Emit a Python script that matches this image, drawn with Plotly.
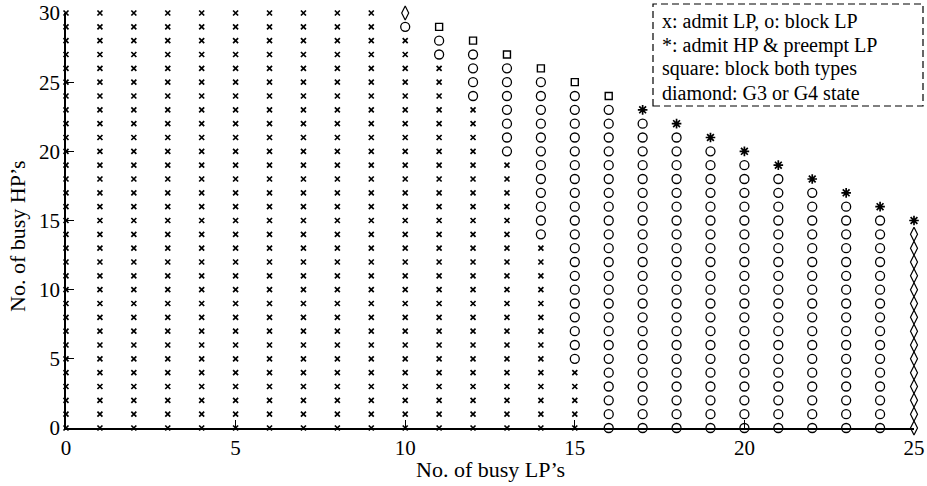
import plotly.graph_objects as go

# Admission policy state space: busy LP channels (x) vs busy HP channels (y)
lp_busy = [0, 1, 2, 3, 4, 5, 6, 7, 8, 9, 10, 11, 12, 13, 14, 15, 16, 17, 18, 19, 20, 21, 22, 23, 24, 25]
hp_max = [30, 30, 30, 30, 30, 30, 30, 30, 30, 30, 30, 29, 28, 27, 26, 25, 24, 23, 22, 21, 20, 19, 18, 17, 16, 15]
# marker used at the top state of each column
top_state = ["x"] * 10 + ["diamond"] + ["square"] * 6 + ["star"] * 9
# lowest HP count at which LP calls are blocked (None: never blocked below top)
block_lp_from = [None] * 10 + [29, 27, 24, 20, 14, 5, 0, 0, 0, 0, 0, 0, 0, 0, 0] + [None]
# columns whose lower states are G3/G4 states
g34_columns = [25]

x_ticks = [0, 5, 10, 15, 20, 25]
y_ticks = [0, 5, 10, 15, 20, 25, 30]

legend_lines = [
    "x: admit LP, o: block LP",
    "*: admit HP &amp; preempt LP",
    "square: block both types",
    "diamond: G3 or G4 state",
]

pts = {"x": ([], []), "circle": ([], []), "square": ([], []), "star": ([], []), "diamond": ([], [])}
for c, top, kind, low in zip(lp_busy, hp_max, top_state, block_lp_from):
    for h in range(top + 1):
        if h == top:
            k = kind
        elif c in g34_columns:
            k = "diamond"
        elif low is not None and h >= low:
            k = "circle"
        else:
            k = "x"
        pts[k][0].append(c)
        pts[k][1].append(h)

styles = {
    "x": dict(symbol="x-thin-open", size=5, line=dict(color="black", width=1.7)),
    "circle": dict(symbol="circle-open", size=9, line=dict(color="black", width=1.3)),
    "square": dict(symbol="square-open", size=7, line=dict(color="black", width=1.4)),
    "star": dict(symbol="asterisk-open", size=8, line=dict(color="black", width=1.7)),
    "diamond": dict(symbol="diamond-tall-open", size=10, line=dict(color="black", width=1.2)),
}

fig = go.Figure()
for k, (xs, ys) in pts.items():
    fig.add_trace(go.Scatter(x=xs, y=ys, mode="markers", marker=dict(color="black", **styles[k]),
                             cliponaxis=False, showlegend=False, hoverinfo="skip"))

W, H = 927, 486
ML, MR, MT, MB = 66, 13, 13, 58
PW, PH = W - ML - MR, H - MT - MB


def px_x(p):
    return (p - ML) / PW


def px_y(p):
    return (H - MB - p) / PH


serif = "Liberation Serif"
axis_common = dict(showline=True, linecolor="black", linewidth=1.6, ticks="inside", ticklen=8,
                   tickwidth=1.2, tickcolor="black", showgrid=False, zeroline=False,
                   ticklabeloverflow="allow", automargin=False,
                   tickfont=dict(family=serif, size=21, color="black"), layer="below traces")

fig.update_layout(
    width=W, height=H,
    margin=dict(l=ML, r=MR, t=MT, b=MB, autoexpand=False),
    paper_bgcolor="white", plot_bgcolor="white",
    xaxis=dict(range=[-0.0001, 25.0001], tickmode="array", tickvals=x_ticks,
               ticktext=[str(v) for v in x_ticks], **axis_common),
    yaxis=dict(range=[-0.0001, 30.0001], tickmode="array", tickvals=y_ticks,
               ticktext=[str(v) for v in y_ticks], **axis_common),
    font=dict(family=serif, color="black"),
)

fig.add_annotation(text="No. of busy LP’s", xref="paper", yref="paper", x=px_x(490), y=px_y(469),
                   xanchor="center", yanchor="middle", showarrow=False,
                   font=dict(family=serif, size=22, color="black"))
fig.add_annotation(text="No. of busy HP’s", xref="paper", yref="paper", x=px_x(18), y=px_y(236),
                   xanchor="center", yanchor="middle", textangle=-90, showarrow=False,
                   font=dict(family=serif, size=22, color="black"))

# dashed legend box with text lines
fig.add_shape(type="rect", xref="paper", yref="paper",
              x0=px_x(653), x1=px_x(923), y0=px_y(106), y1=px_y(4),
              line=dict(color="black", width=1.2, dash="7px,4px"), fillcolor="white", layer="above")
for i, line in enumerate(legend_lines):
    fig.add_annotation(text=line, xref="paper", yref="paper", x=px_x(660), y=px_y(21 + 24 * i),
                       xanchor="left", yanchor="middle", showarrow=False,
                       font=dict(family=serif, size=20, color="black"))

fig.write_html("out.html")
